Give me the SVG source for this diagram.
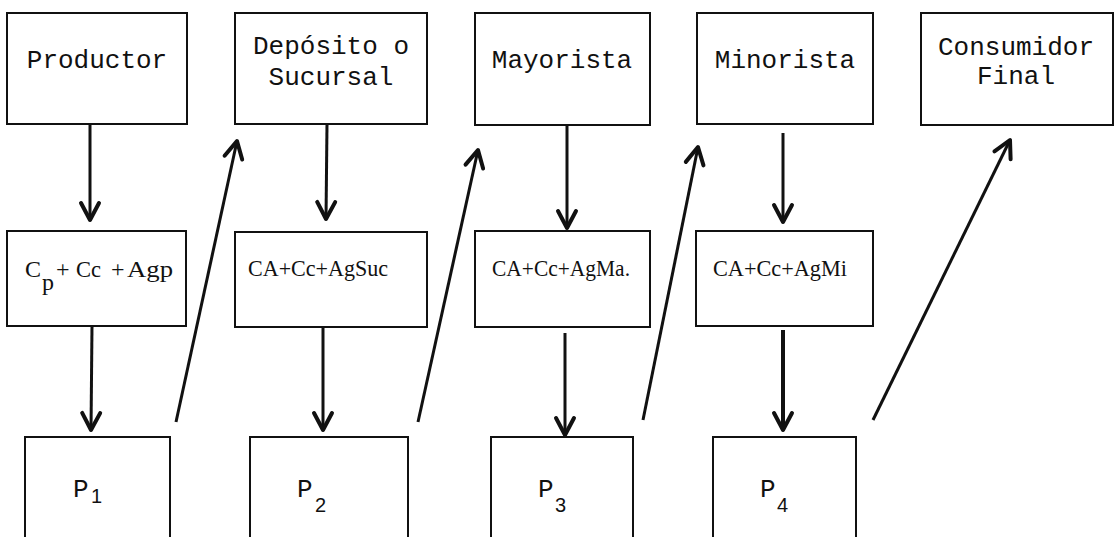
<svg xmlns="http://www.w3.org/2000/svg" width="1118" height="537" viewBox="0 0 1118 537">
<style>
.box{fill:none;stroke:#111;stroke-width:2}
.mono{font-family:"Liberation Mono","DejaVu Sans Mono",monospace;font-size:26px;fill:#111}
.ser{font-family:"Liberation Serif","Times New Roman",serif;font-size:24px;fill:#111}
.sub{font-family:"Liberation Sans",Arial,sans-serif;font-size:20px;fill:#111}
.arr{fill:none;stroke:#111;stroke-width:3;marker-end:url(#ah)}
</style>
<defs>
<marker id="ah" viewBox="-3 -3 26 26" refX="18" refY="10" markerWidth="26" markerHeight="26" markerUnits="userSpaceOnUse" orient="auto">
<path d="M1,1 L18,10 L1,19" fill="none" stroke="#111" stroke-width="4" stroke-linecap="round" stroke-linejoin="round"/>
</marker>
</defs>
<rect width="1118" height="537" fill="#fff"/>

<g id="productor"><rect class="box" x="7" y="13" width="180" height="111"/><text class="mono" x="97" y="68" text-anchor="middle">Productor</text></g>
<g id="deposito"><rect class="box" x="235" y="13" width="192" height="111"/><text class="mono" x="331" y="54" text-anchor="middle">Depósito o</text><text class="mono" x="331" y="85" text-anchor="middle">Sucursal</text></g>
<g id="mayorista"><rect class="box" x="475" y="13" width="175" height="112"/><text class="mono" x="562" y="68" text-anchor="middle">Mayorista</text></g>
<g id="minorista"><rect class="box" x="697" y="13" width="176" height="111"/><text class="mono" x="785" y="68" text-anchor="middle">Minorista</text></g>
<g id="consumidor"><rect class="box" x="921" y="13" width="192" height="112"/><text class="mono" x="1016" y="55" text-anchor="middle">Consumidor</text><text class="mono" x="1016" y="84" text-anchor="middle">Final</text></g>

<g id="costo-productor"><rect class="box" x="7" y="231" width="179" height="95"/><text class="ser" y="277"><tspan x="25">C</tspan><tspan x="42" y="290">p</tspan><tspan x="56" y="277">+</tspan><tspan x="76" textLength="25" lengthAdjust="spacingAndGlyphs">Cc</tspan><tspan x="111">+</tspan><tspan x="127" textLength="46" lengthAdjust="spacingAndGlyphs">Agp</tspan></text></g>
<g id="costo-deposito"><rect class="box" x="235" y="232" width="192" height="95"/><text class="ser" x="248" y="276" textLength="140" lengthAdjust="spacingAndGlyphs">CA+Cc+AgSuc</text></g>
<g id="costo-mayorista"><rect class="box" x="475" y="231" width="175" height="96"/><text class="ser" x="492" y="276" textLength="138" lengthAdjust="spacingAndGlyphs">CA+Cc+AgMa.</text></g>
<g id="costo-minorista"><rect class="box" x="696" y="231" width="177" height="95"/><text class="ser" x="713" y="276" textLength="134" lengthAdjust="spacingAndGlyphs">CA+Cc+AgMi</text></g>

<g id="p1"><path class="box" d="M25,537 V437 H170 V537"/><text class="mono" x="73" y="497">P</text><text class="sub" x="91" y="503">1</text></g>
<g id="p2"><path class="box" d="M250,537 V437 H408 V537"/><text class="mono" x="297" y="497">P</text><text class="sub" x="315" y="512">2</text></g>
<g id="p3"><path class="box" d="M491,537 V437 H633 V537"/><text class="mono" x="538" y="497">P</text><text class="sub" x="555" y="512">3</text></g>
<g id="p4"><path class="box" d="M713,537 V437 H856 V537"/><text class="mono" x="760" y="497">P</text><text class="sub" x="777" y="512">4</text></g>

<g id="connectors">
<line class="arr" x1="90" y1="124" x2="90" y2="220"/>
<line class="arr" x1="92" y1="326" x2="91" y2="430"/>
<line class="arr" x1="327" y1="124" x2="326" y2="219"/>
<line class="arr" x1="323" y1="327" x2="323" y2="430"/>
<line class="arr" x1="567" y1="125" x2="567" y2="228"/>
<line class="arr" x1="565" y1="333" x2="565" y2="435"/>
<line class="arr" x1="783" y1="133" x2="783" y2="222"/>
<line class="arr" x1="783" y1="330" x2="783" y2="430" style="stroke-width:4"/>
<line class="arr" x1="176" y1="422" x2="237" y2="141"/>
<line class="arr" x1="418" y1="422" x2="478" y2="150"/>
<line class="arr" x1="643" y1="420" x2="698" y2="147"/>
<line class="arr" x1="873" y1="420" x2="1010" y2="140"/>
</g>
</svg>
